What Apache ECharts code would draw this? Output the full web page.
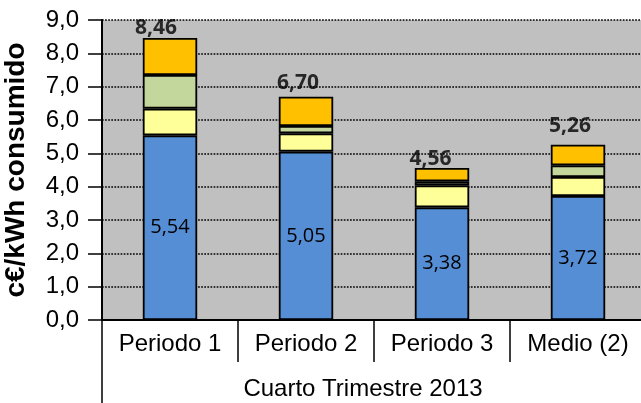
<!DOCTYPE html>
<html>
<head>
<meta charset="utf-8">
<script src="https://cdn.jsdelivr.net/npm/echarts@6/dist/echarts.min.js"></script>
<style>
  html, body { margin: 0; padding: 0; background: #ffffff; }
  #chart { width: 641px; height: 403px; }
</style>
</head>
<body>
<div id="chart"></div>
<script>
// Cost per consumed kWh, split in four stacked components, fourth quarter 2013
const categories = ['Periodo 1', 'Periodo 2', 'Periodo 3', 'Medio (2)'];
const groupLabel = ['Cuarto Trimestre 2013'];
const baseValues = [5.54, 5.05, 3.38, 3.72];
const secondValues = [0.80, 0.55, 0.66, 0.57];
const thirdValues = [1.01, 0.22, 0.12, 0.35];
const fourthValues = [1.11, 0.88, 0.40, 0.62];
const totals = [8.46, 6.70, 4.56, 5.26];

// small nudges of the total labels so they sit where they are printed
const totalLabelNudge = [[-14, 1], [-8, -3], [-11.5, 2], [-8, -8]];

const comma = (v, d) => v.toFixed(d).replace('.', ',');
const axisFont = 'Liberation Sans, Arial, sans-serif';
const numFont = 'Open Sans, sans-serif';

const barBorder = { borderColor: '#000000', borderWidth: 1.8 };

function segment(name, values, color, extra) {
  return Object.assign({
    name: name,
    type: 'bar',
    stack: 'coste',
    barWidth: '40%',
    xAxisIndex: 0,
    yAxisIndex: 0,
    itemStyle: Object.assign({ color: color }, barBorder),
    emphasis: { disabled: true },
    data: values
  }, extra || {});
}

const option = {
  animation: false,
  grid: {
    left: 102, top: 20, right: -5, bottom: 83,
    outerBoundsMode: 'none',
    containLabel: false,
    show: true, backgroundColor: '#C0C0C0', borderWidth: 0
  },
  xAxis: [
    {
      type: 'category',
      data: categories,
      position: 'bottom',
      axisLine: { show: true, lineStyle: { color: '#000000', width: 2 } },
      axisTick: { show: true, interval: 0, length: 42, lineStyle: { color: '#000000', width: 1.5 } },
      axisLabel: { interval: 0, margin: 12, color: '#000000', fontFamily: axisFont, fontSize: 24 },
      splitLine: { show: false }
    },
    {
      type: 'category',
      data: groupLabel,
      position: 'bottom',
      axisLine: { show: false },
      axisTick: { show: true, length: 90, lineStyle: { color: '#000000', width: 1.5 } },
      axisLabel: { margin: 57, color: '#000000', fontFamily: axisFont, fontSize: 24, padding: [0, 22, 0, 0] },
      splitLine: { show: false }
    }
  ],
  yAxis: {
    type: 'value',
    min: 0, max: 9, interval: 1,
    name: 'c€/kWh consumido',
    nameLocation: 'middle',
    nameRotate: 90,
    nameGap: 72,
    nameTextStyle: { color: '#000000', fontFamily: axisFont, fontSize: 28, fontWeight: 'bold' },
    axisLine: { show: true, lineStyle: { color: '#000000', width: 2 } },
    axisTick: { show: true, inside: false, length: 14, lineStyle: { color: '#000000', width: 1.5 } },
    axisLabel: { margin: 23, color: '#000000', fontFamily: axisFont, fontSize: 24, formatter: v => comma(v, 1) },
    splitLine: { show: true, lineStyle: { color: '#000000', width: 1.7, type: [1.7, 1.4] } }
  },
  series: [
    segment('Componente 1', baseValues, '#558ED5', {
      label: {
        show: true, position: 'inside', color: '#000000',
        fontFamily: numFont, fontSize: 20,
        formatter: p => comma(p.value, 2)
      }
    }),
    segment('Componente 2', secondValues, '#FFFF99'),
    segment('Componente 3', thirdValues, '#C3D69B'),
    segment('Componente 4', fourthValues, '#FFC000'),
    {
      name: 'Total',
      type: 'scatter',
      xAxisIndex: 0,
      yAxisIndex: 0,
      symbolSize: 0,
      silent: true,
      z: 5,
      data: totals.map((v, i) => ({
        value: v,
        label: { offset: totalLabelNudge[i] }
      })),
      label: {
        show: true, position: 'top', distance: 0,
        color: '#000000', fontFamily: numFont, fontSize: 21, fontWeight: 'bold',
        formatter: p => comma(p.value, 2)
      }
    }
  ]
};

const chart = echarts.init(document.getElementById('chart'), null, { renderer: 'canvas' });
chart.setOption(option);
</script>
</body>
</html>
